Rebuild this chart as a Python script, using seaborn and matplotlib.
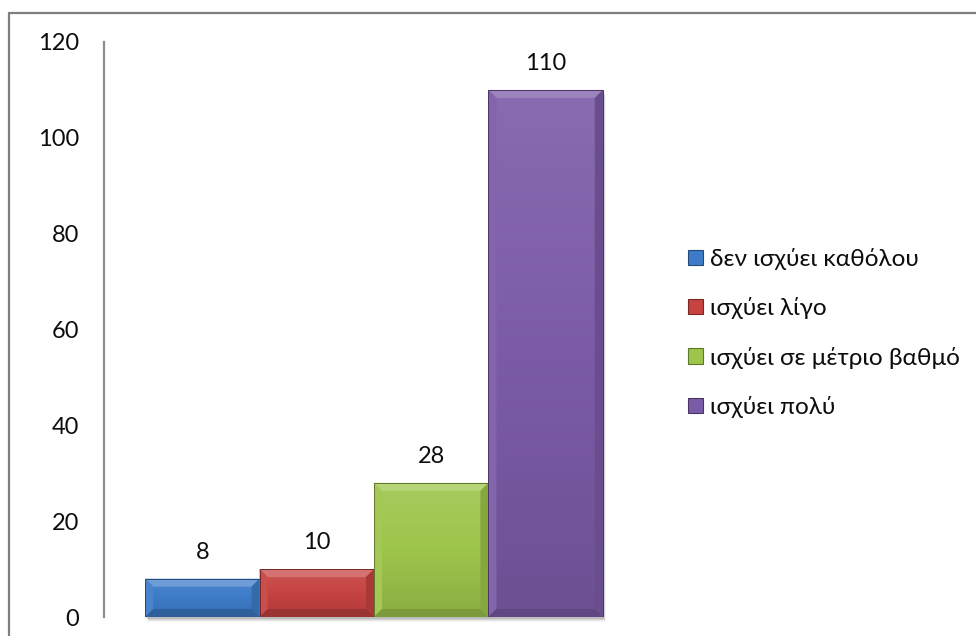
import numpy as np
import matplotlib
matplotlib.use("Agg")
import matplotlib.pyplot as plt
import matplotlib.colors as mcolors
from matplotlib.patches import Polygon, Rectangle, Patch
from matplotlib.lines import Line2D
import seaborn as sns

# Responses and counts
categories = ["δεν ισχύει καθόλου", "ισχύει λίγο", "ισχύει σε μέτριο βαθμό", "ισχύει πολύ"]
values = [8, 10, 28, 110]
colors = ["#3D7BC8", "#C64341", "#9EC54B", "#7B5BA7"]
y_ticks = [0, 20, 40, 60, 80, 100, 120]

sns.set_theme(style="white")
plt.rcParams["font.family"] = ["Lato", "Noto Sans", "DejaVu Sans"]

fig = plt.figure(figsize=(9.76, 6.36), dpi=100)
ax = fig.add_axes([104 / 976, 19 / 636, (644 - 104) / 976, (617 - 42) / 636])

sns.barplot(x=categories, y=values, hue=categories, palette=colors,
            width=1.0, saturation=1, ax=ax, legend=False, zorder=3)

ax.set_ylim(0, 120)
ax.set_xlim(-0.86, 3.86)
ax.set_yticks(y_ticks)
ax.set_yticklabels([str(t) for t in y_ticks], fontsize=17, color="#0D0D0D")
ax.set_xticks([])
ax.set_xlabel("")
ax.set_ylabel("")
ax.tick_params(axis="y", length=0, pad=18)
for side in ["top", "right", "bottom"]:
    ax.spines[side].set_visible(False)
ax.spines["left"].set_color("#8C8C8C")
ax.spines["left"].set_linewidth(1.6)
ax.set_facecolor("none")

# pixel -> data scale for bevel and shadow sizes
fig.canvas.draw()
bbox = ax.get_window_extent()
px_x = (ax.get_xlim()[1] - ax.get_xlim()[0]) / bbox.width
px_y = (ax.get_ylim()[1] - ax.get_ylim()[0]) / bbox.height


def shade(c, f):
    r, g, b = mcolors.to_rgb(c)
    if f >= 0:
        return (r + (1 - r) * f, g + (1 - g) * f, b + (1 - b) * f)
    return (r * (1 + f), g * (1 + f), b * (1 + f))


bars = list(ax.patches)
for bar, col, val in zip(bars, colors, values):
    x0, y0 = bar.get_x(), bar.get_y()
    w, h = bar.get_width(), bar.get_height()
    x1, y1 = x0 + w, y0 + h
    bar.set_edgecolor(shade(col, -0.35))
    bar.set_linewidth(0.6)

    # soft drop shadow
    for k, a in zip([5, 4, 3, 2], [0.04, 0.06, 0.08, 0.10]):
        ax.add_patch(Rectangle((x0 + k * px_x * 0.6, y0 - k * px_y),
                               w, h, facecolor="black", alpha=a,
                               edgecolor="none", zorder=2, clip_on=False))

    # vertical gradient on the face
    grad = np.linspace(0, 1, 256).reshape(-1, 1)
    cmap = mcolors.LinearSegmentedColormap.from_list(
        "g", [shade(col, -0.12), col, shade(col, 0.10)])
    im = ax.imshow(grad, extent=(x0, x1, y0, y1), origin="lower",
                   cmap=cmap, aspect="auto", zorder=3.5)
    im.set_clip_path(bar)

    bx, by = 8 * px_x, 8 * px_y
    bx = min(bx, w / 2)
    by = min(by, h / 2)
    faces = [
        ([(x0, y1), (x1, y1), (x1 - bx, y1 - by), (x0 + bx, y1 - by)], shade(col, 0.25)),
        ([(x0, y0), (x0, y1), (x0 + bx, y1 - by), (x0 + bx, y0 + by)], shade(col, 0.06)),
        ([(x1, y0), (x1, y1), (x1 - bx, y1 - by), (x1 - bx, y0 + by)], shade(col, -0.15)),
        ([(x0, y0), (x1, y0), (x1 - bx, y0 + by), (x0 + bx, y0 + by)], shade(col, -0.22)),
    ]
    for pts, fc in faces:
        ax.add_patch(Polygon(pts, closed=True, facecolor=fc, edgecolor="none", zorder=4))
    ax.add_patch(Rectangle((x0, y0), w, h, facecolor="none",
                           edgecolor=shade(col, -0.4), linewidth=0.7, zorder=4.5))

    ax.annotate(str(val), xy=(x0 + w / 2, y1), xytext=(0, 19),
                textcoords="offset points", ha="center", va="center",
                fontsize=17, color="#0D0D0D")

ax.set_xlim(-0.86, 3.86)
ax.set_ylim(0, 120)

# legend
handles = [Patch(facecolor=c, edgecolor=shade(c, -0.4), linewidth=0.8) for c in colors]
fig.legend(handles, categories, loc="center left",
           bbox_to_anchor=(688 / 976, 1 - 333 / 636), frameon=False,
           fontsize=17.6, handlelength=0.6, handleheight=0.6,
           handletextpad=0.3, labelspacing=1.12, borderpad=0, borderaxespad=0,
           labelcolor="#0D0D0D")

# chart-area frame (top and left edges)
fig.add_artist(Line2D([9 / 976, 1.0], [1 - 13 / 636, 1 - 13 / 636],
                      transform=fig.transFigure, color="#7F7F7F", linewidth=1.6))
fig.add_artist(Line2D([9 / 976, 9 / 976], [0, 1 - 13 / 636],
                      transform=fig.transFigure, color="#7F7F7F", linewidth=1.6))

fig.savefig("out.png", dpi=100)
